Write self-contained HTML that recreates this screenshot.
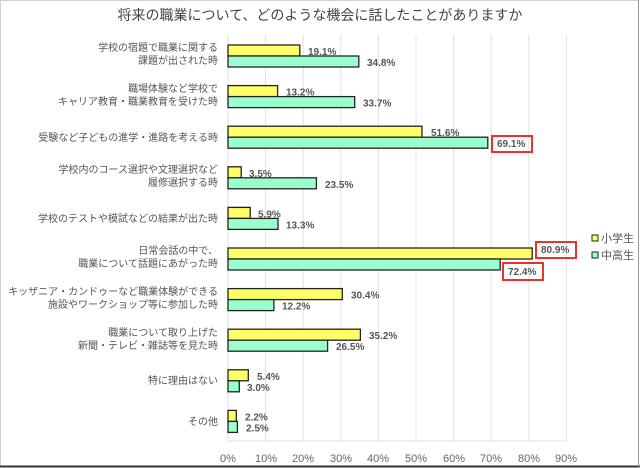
<!DOCTYPE html>
<html><head><meta charset="utf-8"><style>
body{margin:0;background:#fff;}
svg{display:block;font-family:"Liberation Sans","Noto Sans CJK JP",sans-serif;}
</style></head><body>
<svg width="640" height="468" viewBox="0 0 640 468">
<rect x="0.5" y="0.5" width="638" height="466" fill="#fff" stroke="#d0d0d0"/>
<line x1="0" y1="466.5" x2="640" y2="466.5" stroke="#333" stroke-width="2"/>
<line x1="638.5" y1="0" x2="638.5" y2="468" stroke="#999"/>
<text x="320" y="20" text-anchor="middle" font-size="14" fill="#444">将来の職業について、どのような機会に話したことがありますか</text>
<g stroke="#e2e2e2" stroke-width="1">
<line x1="228" y1="35" x2="228" y2="441"/><line x1="265.6" y1="35" x2="265.6" y2="441"/><line x1="303.2" y1="35" x2="303.2" y2="441"/><line x1="340.8" y1="35" x2="340.8" y2="441"/><line x1="378.4" y1="35" x2="378.4" y2="441"/><line x1="416" y1="35" x2="416" y2="441"/><line x1="453.6" y1="35" x2="453.6" y2="441"/><line x1="491.2" y1="35" x2="491.2" y2="441"/><line x1="528.8" y1="35" x2="528.8" y2="441"/><line x1="566.4" y1="35" x2="566.4" y2="441"/>
<line x1="228" y1="441" x2="566.4" y2="441"/>
</g>
<g font-size="11" fill="#666" text-anchor="middle">
<text x="228" y="462">0%</text><text x="266" y="462">10%</text><text x="303" y="462">20%</text><text x="341" y="462">30%</text><text x="378" y="462">40%</text><text x="416" y="462">50%</text><text x="454" y="462">60%</text><text x="491" y="462">70%</text><text x="529" y="462">80%</text><text x="566" y="462">90%</text>
</g>
<g stroke="#222" stroke-width="1.3">
<rect x="228" y="45" width="71.8" height="11" fill="#ffff66"/><rect x="228" y="56" width="130.8" height="11" fill="#99ffcc"/>
<rect x="228" y="85.6" width="49.6" height="11" fill="#ffff66"/><rect x="228" y="96.6" width="126.7" height="11" fill="#99ffcc"/>
<rect x="228" y="126.2" width="194" height="11" fill="#ffff66"/><rect x="228" y="137.2" width="259.8" height="11" fill="#99ffcc"/>
<rect x="228" y="166.8" width="13.2" height="11" fill="#ffff66"/><rect x="228" y="177.8" width="88.4" height="11" fill="#99ffcc"/>
<rect x="228" y="207.4" width="22.2" height="11" fill="#ffff66"/><rect x="228" y="218.4" width="50" height="11" fill="#99ffcc"/>
<rect x="228" y="248" width="304.2" height="11" fill="#ffff66"/><rect x="228" y="259" width="272.2" height="11" fill="#99ffcc"/>
<rect x="228" y="288.6" width="114.3" height="11" fill="#ffff66"/><rect x="228" y="299.6" width="45.9" height="11" fill="#99ffcc"/>
<rect x="228" y="329.2" width="132.4" height="11" fill="#ffff66"/><rect x="228" y="340.2" width="99.6" height="11" fill="#99ffcc"/>
<rect x="228" y="369.8" width="20.3" height="11" fill="#ffff66"/><rect x="228" y="380.8" width="11.3" height="11" fill="#99ffcc"/>
<rect x="228" y="410.4" width="8.3" height="11" fill="#ffff66"/><rect x="228" y="421.4" width="9.4" height="11" fill="#99ffcc"/>
</g>
<g font-size="10" font-weight="bold" fill="#555">
<text x="308" y="55">19.1%</text><text x="367" y="66">34.8%</text>
<text x="286" y="95.6">13.2%</text><text x="363" y="106.6">33.7%</text>
<text x="431" y="136.2">51.6%</text><text x="497" y="147.2">69.1%</text>
<text x="249" y="176.8">3.5%</text><text x="325" y="187.8">23.5%</text>
<text x="258" y="217.4">5.9%</text><text x="286" y="228.4">13.3%</text>
<text x="541" y="253">80.9%</text><text x="508" y="275">72.4%</text>
<text x="351" y="298.6">30.4%</text><text x="282" y="309.6">12.2%</text>
<text x="369" y="339.2">35.2%</text><text x="336" y="350.2">26.5%</text>
<text x="257" y="379.8">5.4%</text><text x="247" y="390.8">3.0%</text>
<text x="245" y="420.4">2.2%</text><text x="246" y="431.4">2.5%</text>
</g>
<g fill="none" stroke="#e8322a" stroke-width="2">
<rect x="492" y="136" width="40" height="16"/>
<rect x="536" y="242" width="40" height="16"/>
<rect x="503" y="263" width="40" height="17"/>
</g>
<g font-size="10" fill="#555" text-anchor="end">
<text x="218" y="51">学校の宿題で職業に関する</text><text x="218" y="64">課題が出された時</text>
<text x="218" y="92">職場体験など学校で</text><text x="218" y="105">キャリア教育・職業教育を受けた時</text>
<text x="218" y="141">受験など子どもの進学・進路を考える時</text>
<text x="218" y="173">学校内のコース選択や文理選択など</text><text x="218" y="186">履修選択する時</text>
<text x="218" y="222">学校のテストや模試などの結果が出た時</text>
<text x="218" y="254">日常会話の中で、</text><text x="218" y="267">職業について話題にあがった時</text>
<text x="218" y="295">キッザニア・カンドゥーなど職業体験ができる</text><text x="218" y="308">施設やワークショップ等に参加した時</text>
<text x="218" y="336">職業について取り上げた</text><text x="218" y="349">新聞・テレビ・雑誌等を見た時</text>
<text x="218" y="384">特に理由はない</text>
<text x="218" y="425">その他</text>
</g>
<rect x="592" y="235" width="6" height="6" fill="#ffff66" stroke="#222"/>
<text x="601" y="242" font-size="11" fill="#555">小学生</text>
<rect x="592" y="252" width="6" height="6" fill="#99ffcc" stroke="#222"/>
<text x="601" y="259" font-size="11" fill="#555">中高生</text>
</svg>
</body></html>
